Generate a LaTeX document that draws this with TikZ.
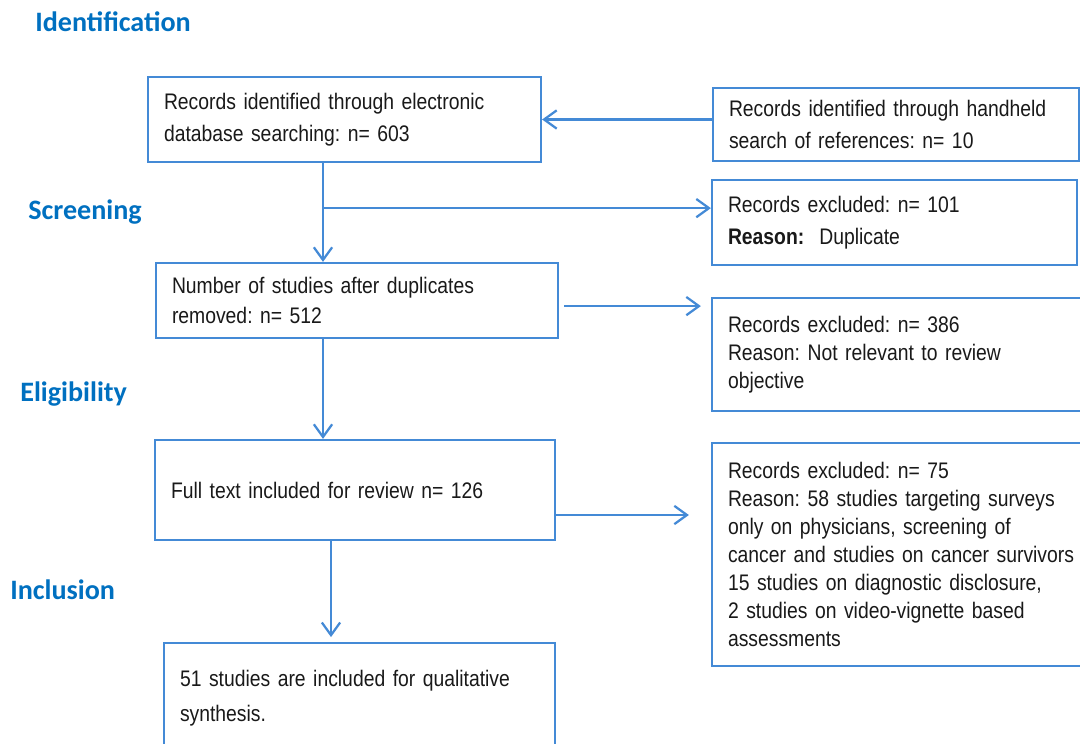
\documentclass[tikz,border=0pt]{standalone}
\usepackage{fontspec}
\usetikzlibrary{arrows.meta}
\setmainfont{Liberation Sans}
\newfontfamily\boxfont[FakeStretch=0.86,WordSpace=0.8]{Liberation Sans}
\newfontfamily\stagefont{Carlito}
\definecolor{stageblue}{RGB}{0,112,192}
\definecolor{lineblue}{RGB}{68,138,214}
\frenchspacing

\begin{document}
\begin{tikzpicture}[>={Straight Barb[length=9pt,width=13pt,line width=1.6pt]},
  box/.style={draw=lineblue, line width=1.6pt, rectangle, inner xsep=0.4cm, inner ysep=0pt,
    align=left, font=\boxfont\fontsize{16}{20}\selectfont, text=black!90},
  stage/.style={anchor=west, inner sep=0pt, text=stageblue, font=\stagefont\bfseries\fontsize{20}{22}\selectfont},
  arr/.style={draw=lineblue, line width=1.6pt, ->}]
\clip (0,0) rectangle (27,-18.6);

% stages
\node[stage] (id) at (0.875,-0.55) {Identification};
\node[stage] (scr) at (0.7,-5.3) {Screening};
\node[stage] (eli) at (0.5,-9.85) {Eligibility};
\node[stage] (inc) at (0.25,-14.75) {Inclusion};

% boxes
\node[box, minimum width=9.825cm, minimum height=2.125cm, text width=9.025cm,
  font=\boxfont\fontsize{16}{22.5}\selectfont] (elec) at (8.6125,-2.9875)
  {Records identified through electronic\\database searching: n= 603};
\node[box, minimum width=9.15cm, minimum height=1.825cm, text width=8.35cm,
  font=\boxfont\fontsize{16}{22.5}\selectfont] (hand) at (22.4,-3.1125)
  {Records identified through handheld\\search of references: n= 10};
\node[box, minimum width=9.125cm, minimum height=2.125cm, text width=8.325cm,
  font=\boxfont\fontsize{16}{22.5}\selectfont] (exdup) at (22.3625,-5.5625)
  {Records excluded: n= 101\\\textbf{Reason:}\ \ Duplicate};
\node[box, minimum width=10.05cm, minimum height=1.875cm, text width=9.25cm,
  font=\boxfont\fontsize{16}{21}\selectfont] (dedup) at (8.925,-7.5125)
  {Number of studies after duplicates\\removed: n= 512};
\node[box, minimum width=9.7cm, minimum height=2.825cm, text width=8.9cm] (exrel) at (22.65,-8.8625)
  {Records excluded: n= 386\\Reason: Not relevant to review\\objective};
\node[box, minimum width=10cm, minimum height=2.5cm, text width=9.2cm] (full) at (8.875,-12.25)
  {Full text included for review n= 126};
\node[box, minimum width=9.7cm, minimum height=5.575cm, text width=8.9cm] (exfull) at (22.65,-13.8625)
  {Records excluded: n= 75\\Reason: 58 studies targeting surveys\\only on physicians, screening of\\cancer and studies on cancer survivors\\15 studies on diagnostic disclosure,\\2 studies on video-vignette based\\assessments};
\node[box, minimum width=9.775cm, minimum height=2.75cm, text width=8.975cm,
  font=\boxfont\fontsize{16}{25}\selectfont] (incl) at (8.9875,-17.45)
  {51 studies are included for qualitative\\synthesis.};

% connectors
\draw[arr] (elec.east -| hand.west) -- (elec.east);
\draw[arr] ([xshift=-0.5375cm]elec.south) -- ([xshift=-0.5375cm]elec.south |- dedup.north);
\coordinate (split) at ([xshift=-0.5375cm,yshift=-1.125cm]elec.south);
\draw[arr] (split) -- (split -| exdup.west);
\draw[arr, shorten <=0.125cm, shorten >=0.25cm] ([yshift=-0.14cm]dedup.east) -- ([yshift=-0.14cm]dedup.east -| exrel.west);
\draw[arr] ([xshift=-0.85cm]dedup.south) -- ([xshift=-0.85cm]dedup.south |- full.north);
\draw[arr, shorten <=-0.05cm, shorten >=0.55cm] ([yshift=-0.625cm]full.east) -- ([yshift=-0.625cm]full.east -| exfull.west);
\draw[arr, shorten >=0.12cm] ([xshift=-0.6cm]full.south) -- ([xshift=-0.6cm]full.south |- incl.north);
\end{tikzpicture}
\end{document}
